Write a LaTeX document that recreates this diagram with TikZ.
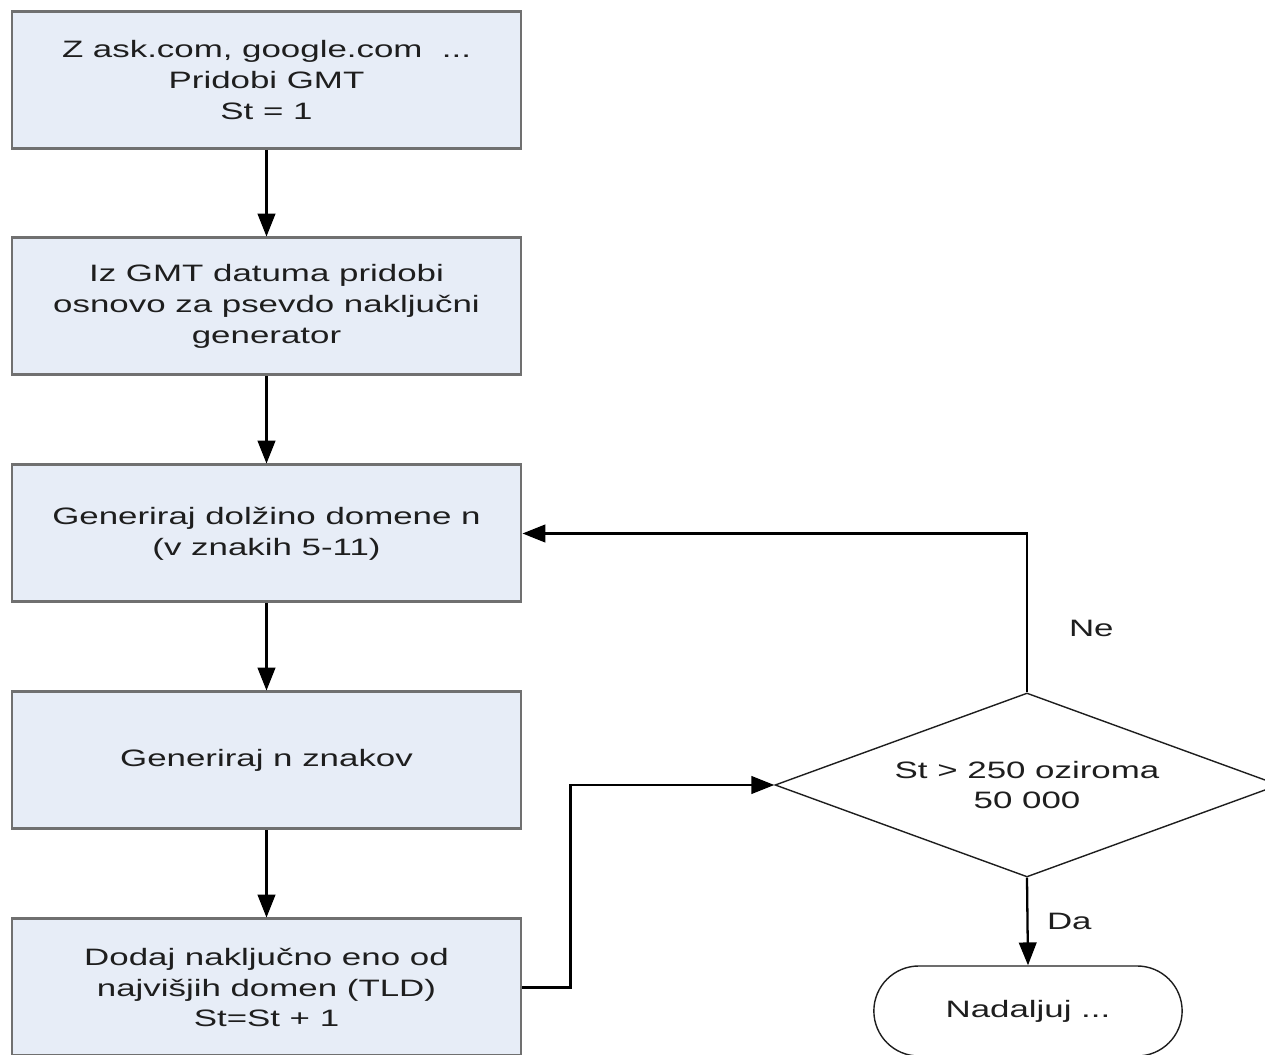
\documentclass[tikz,border=0pt]{standalone}
\usepackage{fontspec}
\setmainfont[FakeStretch=1.47]{Liberation Sans}
\usetikzlibrary{arrows.meta,shapes.geometric,shapes.misc}
\definecolor{boxfill}{RGB}{231,237,247}
\definecolor{boxline}{RGB}{112,112,112}
\definecolor{inkgray}{RGB}{30,30,30}
\newcommand{\flowfont}{\fontsize{13.5}{17.6}\selectfont}
\tikzset{
    box/.style={draw=boxline, fill=boxfill, line width=1.7pt, minimum height=2.74cm,
                minimum width=10.18cm, inner sep=4pt, align=center},
    flow/.style={-{Triangle[length=13pt, width=10pt]}, line width=1.3pt},
    note/.style={font=\flowfont, text=inkgray},
    choice/.style={diamond, draw=inkgray, line width=0.8pt, aspect=2.74,
                   minimum width=10.08cm, minimum height=3.68cm, inner sep=0pt,
                   align=center},
    finish/.style={rounded rectangle, draw=inkgray, line width=0.8pt,
                   minimum width=6.4cm, minimum height=1.8cm, align=center},
}
\tikzset{
    flow panel/.style={note},
}

\begin{document}
\begin{tikzpicture}[flow panel]
    \path[use as bounding box] (0,0) rectangle (25.3,21.1);

    \node[box] (gmt) at (5.33,19.5) {Z ask.com, google.com~~...\\Pridobi GMT\\St = 1};
    \node[box] (seed) at (5.33,14.97) {Iz GMT datuma pridobi\\osnovo za psevdo naključni\\generator};
    \node[box] (length) at (5.33,10.43) {Generiraj dolžino domene n\\(v znakih 5-11)};
    \node[box] (chars) at (5.33,5.89) {Generiraj n znakov};
    \node[box] (tld) at (5.33,1.35) {Dodaj naključno eno od\\najvišjih domen (TLD)\\St=St + 1};

    \node[choice] (check) at (20.54,5.4) {St > 250 oziroma\\50 000};
    \node[finish] (done) at (20.56,0.88) {Nadaljuj ...};

    \foreach \a/\b in {gmt/seed, seed/length, length/chars, chars/tld} {
        \draw[flow] (\a.south) -- (\b.north);
    }
    \draw[flow] (tld.east) -- ++(0.96,0) |- (check.west);
    \draw[flow] (check.north) |- node[pos=0.2, right=0.7cm] {Ne} (length.east);
    \draw[flow] (check.south) -- node[right=0.25cm] {Da} (done.north);
\end{tikzpicture}
\end{document}
